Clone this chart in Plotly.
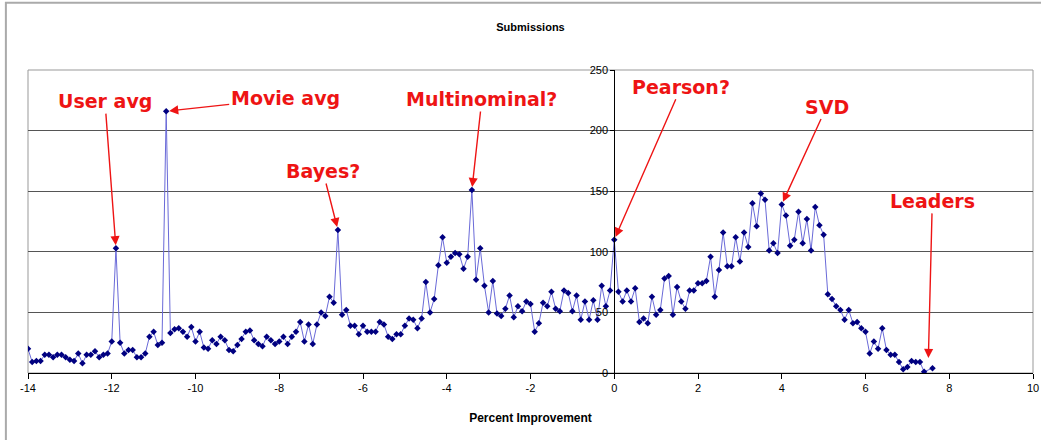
import plotly.graph_objects as go

# Percent improvement (x) and number of submissions (y)
percent_improvement = [
    -14.0, -13.9, -13.8, -13.7, -13.6, -13.5, -13.4, -13.3, -13.2, -13.1,
    -13.0, -12.9, -12.8, -12.7, -12.6, -12.5, -12.4, -12.3, -12.2, -12.1,
    -12.0, -11.9, -11.8, -11.7, -11.6, -11.5, -11.4, -11.3, -11.2, -11.1,
    -11.0, -10.9, -10.8, -10.7, -10.6, -10.5, -10.4, -10.3, -10.2, -10.1,
    -10.0, -9.9, -9.8, -9.7, -9.6, -9.5, -9.4, -9.3, -9.2, -9.1,
    -9.0, -8.9, -8.8, -8.7, -8.6, -8.5, -8.4, -8.3, -8.2, -8.1,
    -8.0, -7.9, -7.8, -7.7, -7.6, -7.5, -7.4, -7.3, -7.2, -7.1,
    -7.0, -6.9, -6.8, -6.7, -6.6, -6.5, -6.4, -6.3, -6.2, -6.1,
    -6.0, -5.9, -5.8, -5.7, -5.6, -5.5, -5.4, -5.3, -5.2, -5.1,
    -5.0, -4.9, -4.8, -4.7, -4.6, -4.5, -4.4, -4.3, -4.2, -4.1,
    -4.0, -3.9, -3.8, -3.7, -3.6, -3.5, -3.4, -3.3, -3.2, -3.1,
    -3.0, -2.9, -2.8, -2.7, -2.6, -2.5, -2.4, -2.3, -2.2, -2.1,
    -2.0, -1.9, -1.8, -1.7, -1.6, -1.5, -1.4, -1.3, -1.2, -1.1,
    -1.0, -0.9, -0.8, -0.7, -0.6, -0.5, -0.4, -0.3, -0.2, -0.1,
    0.0, 0.1, 0.2, 0.3, 0.4, 0.5, 0.6, 0.7, 0.8, 0.9,
    1.0, 1.1, 1.2, 1.3, 1.4, 1.5, 1.6, 1.7, 1.8, 1.9,
    2.0, 2.1, 2.2, 2.3, 2.4, 2.5, 2.6, 2.7, 2.8, 2.9,
    3.0, 3.1, 3.2, 3.3, 3.4, 3.5, 3.6, 3.7, 3.8, 3.9,
    4.0, 4.1, 4.2, 4.3, 4.4, 4.5, 4.6, 4.7, 4.8, 4.9,
    5.0, 5.1, 5.2, 5.3, 5.4, 5.5, 5.6, 5.7, 5.8, 5.9,
    6.0, 6.1, 6.2, 6.3, 6.4, 6.5, 6.6, 6.7, 6.8, 6.9,
    7.0, 7.1, 7.2, 7.3, 7.4, 7.6,
]

submissions = [
    20, 9, 10, 10, 15, 15, 13, 15, 15, 13,
    11, 10, 16, 8, 15, 15, 18, 13, 15, 16,
    26, 103, 25, 16, 19, 19, 13, 13, 16, 30,
    34, 23, 25, 216, 33, 36, 37, 34, 30, 38,
    26, 34, 21, 20, 27, 24, 30, 27, 19, 18,
    23, 28, 34, 35, 27, 24, 22, 30, 27, 24,
    26, 30, 24, 30, 34, 42, 26, 40, 24, 40,
    50, 47, 63, 58, 118, 48, 52, 39, 39, 32,
    39, 34, 34, 34, 42, 40, 30, 28, 32, 32,
    39, 45, 44, 37, 45, 75, 50, 61, 89, 112,
    91, 96, 99, 98, 86, 96, 151, 77, 103, 72,
    50, 76, 49, 47, 53, 64, 46, 55, 51, 59,
    57, 34, 41, 58, 55, 67, 53, 51, 68, 66,
    51, 64, 44, 59, 44, 60, 44, 72, 55, 68,
    110, 67, 59, 68, 59, 70, 42, 45, 41, 63,
    48, 52, 78, 80, 48, 71, 59, 53, 68, 68,
    74, 74, 76, 96, 63, 85, 116, 88, 88, 112,
    92, 116, 104, 140, 121, 148, 143, 101, 107, 99,
    139, 130, 105, 110, 133, 107, 127, 101, 137, 122,
    114, 65, 61, 55, 52, 44, 52, 41, 42, 37,
    34, 16, 26, 20, 37, 19, 15, 15, 9, 3,
    5, 10, 9, 9, 1, 4,
]

x_ticks = [-14, -12, -10, -8, -6, -4, -2, 0, 2, 4, 6, 8, 10]
y_ticks = [0, 50, 100, 150, 200, 250]

# Callouts: label, target x, target y, tail offset (px)
callout_labels = ["User avg", "Movie avg", "Bayes?", "Multinominal?", "Pearson?", "SVD", "Leaders"]
callout_x = [-11.9, -10.7, -6.6, -3.4, 0.0, 4.0, 7.5]
callout_y = [103, 216, 118, 151, 110, 139, 10]
callout_ax = [-11, 119, -15, 10, 67, 45, 4]
callout_ay = [-147, -13, -59, -91, -153, -98, -160]

fig = go.Figure()
fig.add_trace(go.Scatter(
    x=percent_improvement, y=submissions, mode="lines+markers",
    line=dict(color="#6a6ad8", width=1),
    marker=dict(symbol="diamond", size=5, color="#000080"),
    showlegend=False, hoverinfo="x+y",
))

red = "#ee1414"
for lab, cx, cy, ax, ay in zip(callout_labels, callout_x, callout_y, callout_ax, callout_ay):
    fig.add_annotation(
        x=cx, y=cy, xref="x", yref="y", text="<b>" + lab + "</b>",
        showarrow=True, ax=ax, ay=ay, arrowhead=2, arrowsize=1.3,
        arrowwidth=1.4, arrowcolor=red, standoff=3,
        font=dict(family="DejaVu Sans", size=19, color=red),
    )

# plot-area border
fig.add_shape(type="rect", xref="paper", yref="paper", x0=0, x1=1, y0=0, y1=1,
              line=dict(color="#999999", width=1), layer="below")
# outer chart frame
fig.add_shape(type="rect", xref="paper", yref="paper", x0=-0.022, x1=1.03, y0=-0.3, y1=1.222,
              line=dict(color="#aaaaaa", width=2), layer="below")

fig.update_layout(
    width=1041, height=440,
    margin=dict(l=28, r=8, t=70, b=67, autoexpand=False),
    paper_bgcolor="white", plot_bgcolor="white",
    font=dict(family="Liberation Sans", size=11, color="black"),
    title=dict(text="<b>Submissions</b>", x=0.5, xref="paper", y=1 - 27 / 440,
               xanchor="center", yanchor="middle", automargin=False,
               font=dict(family="Liberation Sans", size=11, color="black")),
    xaxis=dict(
        range=[-14, 10], tickvals=x_ticks, ticktext=[str(v) for v in x_ticks],
        automargin=False,
        showgrid=False, zeroline=False, showline=True, linecolor="black", linewidth=1,
        ticks="outside", ticklen=5, tickcolor="black",
        tickfont=dict(family="Liberation Sans", size=11),
        title=dict(text="<b>Percent Improvement</b>", standoff=20,
                   font=dict(family="Liberation Sans", size=12)),
    ),
    yaxis=dict(
        range=[0, 250], tickvals=y_ticks, anchor="free", position=14 / 24,
        automargin=False,
        showgrid=True, gridcolor="#555555", gridwidth=1,
        zeroline=False, showline=True, linecolor="black", linewidth=1,
        ticks="outside", ticklen=4, tickcolor="black",
        tickfont=dict(family="Liberation Sans", size=11),
    ),
)

fig.write_html("out.html", config={"displayModeBar": False},
               post_script="document.body.style.margin='0px';")
